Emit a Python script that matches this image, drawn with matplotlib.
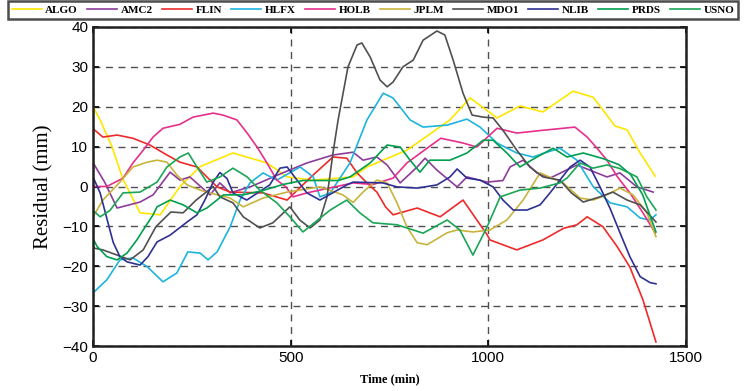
import matplotlib
matplotlib.use('Agg')
import matplotlib.pyplot as plt

# station names / colours
stations = ['ALGO', 'AMC2', 'FLIN', 'HLFX', 'HOLB', 'JPLM', 'MDO1', 'NLIB', 'PRDS', 'USNO']
colors = ['#FFE600', '#8E3C9C', '#EE2A2A', '#1EB4DE', '#E6308C',
          '#C8B43C', '#505050', '#2E3192', '#00A04E', '#1AA655']

# residuals (time in min, residual in mm)
algo_t = [0, 18, 48, 75, 119, 170, 220, 271, 354, 440, 491, 557, 658, 693, 794, 903, 954, 1022, 1080, 1138, 1214, 1265, 1290, 1320, 1351, 1384, 1422]
algo_v = [20, 16.7, 10, 2, -6.6, -7.1, 0, 5, 8.4, 5.9, 2.4, 1.6, 2.4, 4.9, 9.1, 16.7, 22.2, 17.2, 20.2, 18.7, 23.9, 22.4, 19.2, 15.2, 14.2, 8.4, 2.6]

amc2_t = [0, 30, 61, 119, 152, 195, 220, 245, 296, 321, 347, 400, 470, 541, 607, 658, 683, 718, 744, 777, 820, 840, 870, 921, 946, 997, 1037, 1055, 1088, 1123, 1156, 1224, 1257, 1300, 1333, 1376, 1417]
amc2_v = [6, 1, -5.4, -3.9, -2.1, 3.6, 1.6, 2.4, -2.1, 0.9, -1.6, 0, 3, 5.9, 7.9, 8.6, 6.6, 7.4, 5.4, 0.9, 4.9, 7.1, 4.1, -0.1, 2.4, 1.1, 1.5, 4.9, 6.6, 3.4, 2.1, 5.4, 4.1, 2.4, 3.4, -0.1, -1.4]

flin_t = [0, 25, 61, 101, 144, 187, 220, 263, 288, 314, 347, 430, 491, 516, 557, 607, 642, 668, 693, 718, 740, 759, 820, 878, 936, 971, 997, 1004, 1072, 1138, 1190, 1224, 1250, 1290, 1326, 1358, 1391, 1424]
flin_v = [14.5, 12.4, 12.9, 12.1, 10.4, 7.9, 6.1, 4.9, 2.4, -0.1, -1.4, -1.6, -3.4, -1, 2.9, 7.4, 7.1, 3.4, 0.9, -1.4, -5.1, -7.1, -5.4, -7.6, -3.4, -8.4, -12.1, -13.4, -15.9, -13.4, -10.5, -9.6, -7.6, -10.1, -15.1, -20.2, -28.4, -39]

hlfx_t = [0, 35, 68, 101, 137, 177, 212, 240, 271, 291, 314, 347, 372, 397, 430, 465, 524, 557, 574, 600, 650, 693, 734, 759, 802, 835, 896, 946, 979, 1022, 1072, 1113, 1148, 1181, 1224, 1265, 1308, 1351, 1384, 1409, 1424]
hlfx_v = [-26.7, -23.4, -18.4, -17.9, -20.1, -23.9, -21.7, -16.4, -16.7, -18.4, -16.4, -10.1, -3.4, 0.9, 3.4, 1.6, 4.9, 2.4, -2.6, -1.6, 5.9, 16.7, 23.4, 22.2, 16.7, 14.9, 15.4, 16.9, 14.9, 10.9, 8.4, 7.4, 8.6, 9.6, 6.6, 0, -4.1, -5.1, -7.9, -8.4, -7.1]

holb_t = [0, 35, 76, 101, 127, 152, 177, 220, 253, 304, 329, 364, 390, 415, 440, 465, 488, 506, 541, 658, 708, 759, 794, 845, 880, 936, 971, 1022, 1072, 1138, 1189, 1219, 1250, 1275, 1300, 1326, 1358, 1391, 1422]
holb_v = [0, 0, 2.1, 5.9, 9.1, 12.4, 14.6, 15.6, 17.4, 18.4, 17.9, 16.7, 13.4, 9.9, 5.9, 1.6, -0.1, -2.6, -1.6, 0.9, 0.5, 2.1, 5.9, 9.6, 12.1, 10.9, 9.9, 14.6, 13.4, 14.1, 14.6, 14.9, 12.4, 9.6, 6.6, 2.5, -1.6, -6.6, -11.6]

jplm_t = [0, 25, 68, 101, 137, 162, 187, 212, 238, 271, 314, 347, 380, 430, 491, 574, 632, 658, 683, 718, 744, 769, 794, 820, 845, 896, 921, 961, 1004, 1047, 1088, 1131, 1189, 1232, 1265, 1300, 1333, 1366, 1401, 1424]
jplm_v = [-7.6, -3.4, 1.1, 4.9, 6.1, 6.6, 6.1, 2.9, 0.4, -0.9, -2.1, -2.9, -5.1, -2.9, -1.4, -0.1, -2.1, -4.0, -1.4, 1.6, 0.9, -4.1, -10.1, -14.1, -14.6, -11.6, -10.9, -11.4, -10.9, -8.4, -3.4, 3.4, 0.9, -2.9, -3.4, -2.1, -0.4, -2.1, -6.6, -12.6]

mdo1_t = [0, 25, 61, 94, 127, 159, 197, 228, 261, 304, 321, 354, 380, 422, 455, 498, 523, 549, 574, 592, 607, 620, 645, 668, 680, 701, 726, 744, 759, 784, 810, 835, 870, 890, 911, 936, 959, 987, 1012, 1037, 1072, 1105, 1138, 1181, 1210, 1240, 1282, 1315, 1351, 1384, 1424]
mdo1_v = [-15.4, -15.9, -17.2, -18.4, -15.9, -10.1, -6.4, -6.6, -3.4, 0, -2.6, -4.1, -7.6, -10.4, -9.1, -5.1, -8.4, -10.4, -8.4, -2.6, 8.4, 16.7, 30, 35.5, 36, 32.5, 26.7, 25, 26.2, 30, 31.7, 36.7, 39, 38, 31.7, 23.4, 17.9, 17.4, 17.2, 14.1, 9.1, 4.9, 2.4, 1.6, -1.6, -3.9, -2.6, -1.4, -3.4, -4.6, -8.9]

nlib_t = [0, 18, 35, 51, 68, 86, 119, 139, 162, 195, 238, 263, 283, 304, 321, 339, 354, 389, 447, 473, 491, 516, 541, 574, 642, 658, 733, 769, 820, 870, 903, 921, 946, 979, 1012, 1037, 1063, 1098, 1131, 1156, 1181, 1207, 1232, 1257, 1282, 1308, 1333, 1358, 1384, 1409, 1424]
nlib_v = [2.4, -1.6, -8, -14, -17.6, -18.9, -19.7, -17.6, -13.9, -12.2, -8.9, -7.1, -3.4, 1.1, 3.5, 2, -1.6, -3.4, 0.4, 4.6, 4.9, 1.6, -1.6, -3.4, 0.4, 1.1, 0.9, -0.1, -0.4, 0.4, 2.4, 4.4, 2.1, 1.6, -0.1, -3.4, -5.9, -5.9, -4.6, -1.6, 1.6, 4.9, 6.6, 4.9, 0, -5.5, -11.6, -17.6, -22.6, -24.1, -24.4]

prds_t = [0, 10, 35, 61, 86, 111, 127, 152, 162, 195, 228, 263, 288, 330, 380, 430, 480, 530, 570, 620, 650, 701, 744, 777, 802, 827, 852, 903, 946, 987, 1012, 1047, 1080, 1123, 1164, 1199, 1240, 1290, 1330, 1360, 1390, 1424]
prds_v = [-13, -15, -17.6, -18.4, -16.7, -13.4, -10.9, -7.1, -5.1, -3.4, -4.6, -6.6, -5.4, -2.1, -2.1, -1, 0.5, 1.5, 1.5, 1.5, 2.4, 5.9, 10.4, 9.9, 6.6, 3.6, 6.6, 6.6, 8.4, 11.6, 11.6, 8.4, 4.9, 7.4, 9.6, 7.4, 8.4, 7, 5.5, 3, -2, -11.4]

usno_t = [0, 18, 43, 76, 119, 162, 187, 220, 241, 263, 288, 321, 354, 390, 422, 465, 498, 531, 600, 642, 675, 708, 769, 835, 896, 928, 961, 997, 1030, 1080, 1131, 1181, 1199, 1232, 1265, 1300, 1333, 1376, 1401, 1424]
usno_v = [-6, -7.6, -6, -1.6, -1.4, 1.1, 4.9, 7.4, 8.4, 4.9, 1.1, 2.4, 4.6, 2.4, -0.9, -4.1, -7.6, -11.4, -5.9, -3.4, -6.6, -9.1, -9.6, -11.7, -8.4, -10.9, -17.2, -10.1, -2.6, -0.9, -0.4, 0.9, 2.1, 5.9, 4.6, 5.4, 4.5, 2.4, -2.6, -5.9]

series_t = [algo_t, amc2_t, flin_t, hlfx_t, holb_t, jplm_t, mdo1_t, nlib_t, prds_t, usno_t]
series_v = [algo_v, amc2_v, flin_v, hlfx_v, holb_v, jplm_v, mdo1_v, nlib_v, prds_v, usno_v]

x_ticks = [0, 500, 1000, 1500]
y_ticks = [-40, -30, -20, -10, 0, 10, 20, 30, 40]

fig = plt.figure(figsize=(7.53, 3.91), dpi=100)
ax = fig.add_axes([93 / 753, 1 - 346 / 391, 593 / 753, 319 / 391])

for name, col, t, v in zip(stations, colors, series_t, series_v):
    ax.plot(t, v, color=col, linewidth=1.2, label=name)

ax.set_xlim(0, 1500)
ax.set_ylim(-40, 40)
ax.set_xticks(x_ticks)
ax.set_yticks(y_ticks)
ax.grid(True, color='#505050', linestyle=(0, (5, 4)), linewidth=1.0)
for s in ax.spines.values():
    s.set_linewidth(1.8)
    s.set_color('#202020')
ax.tick_params(direction='in', length=4, width=1.2, right=True, top=True,
               labelsize=11)
for lab in ax.get_xticklabels() + ax.get_yticklabels():
    lab.set_fontfamily('Liberation Sans')

ax.set_ylabel('Residual (mm)', fontsize=15, fontfamily='Liberation Serif',
              labelpad=6)
ax.set_xlabel('Time (min)', fontsize=9, fontweight='bold',
              fontfamily='Liberation Serif', labelpad=6)

# legend strip across the top
leg = fig.legend(loc='upper left', bbox_to_anchor=(8 / 753, 1 - 1 / 391),
                 ncol=10, frameon=True, fancybox=False, handlelength=2.7,
                 handletextpad=0.3, columnspacing=0.85, borderpad=0.35,
                 borderaxespad=0,
                 prop={'family': 'Liberation Serif', 'weight': 'bold', 'size': 8})
leg.get_frame().set_edgecolor('#202020')
leg.get_frame().set_linewidth(1.8)

fig.savefig('out.png', dpi=100)
